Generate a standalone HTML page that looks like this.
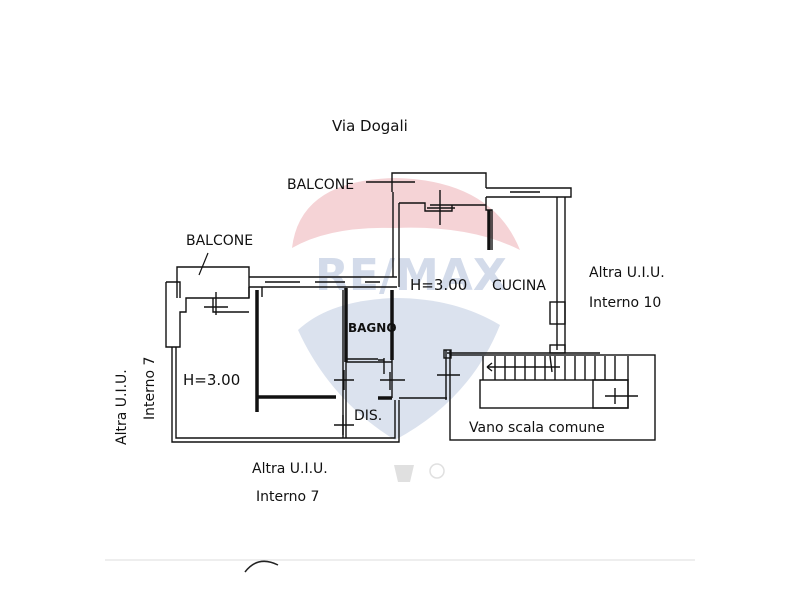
<!DOCTYPE html>
<html><head><meta charset="utf-8"><style>
html,body{margin:0;padding:0;background:#fff;}
svg{display:block}
text{font-family:"DejaVu Sans","Liberation Sans",sans-serif;fill:#111}
</style></head><body>
<svg width="800" height="600" viewBox="0 0 800 600" xmlns="http://www.w3.org/2000/svg">
<rect width="800" height="600" fill="#fff"/>
<!-- watermark -->
<path d="M292,248 Q300,180 395,178 Q492,180 520,250 Q470,225 395,228 Q330,226 292,248 Z" fill="#f5d3d6"/>
<path d="M298,330 Q330,300 395,298 Q455,298 500,325 Q470,400 395,440 Q330,400 298,330 Z" fill="#dbe2ee"/>
<text x="315" y="290" font-size="44" font-weight="bold" style="fill:#d3dbea">RE/MAX</text>
<path d="M394,465 L414,465 L410,482 L398,482 Z" fill="#e0e0e0"/>
<circle cx="437" cy="471" r="7" fill="none" stroke="#e0e0e0" stroke-width="1.5"/>
<g fill="none" stroke="#111" stroke-width="1.4">
<path d="M172,347 L172,442 L399,442 L399,400"/>
<path d="M176,347 L176,438 L395,438 L395,400"/>
<path d="M177,298 L177,267 L249,267 L249,298"/>
<path d="M166,282 L166,347 L180,347 L180,312 L186,312 L186,298 L249,298 L249,287"/>
<path d="M166,282 L180,282 L180,298"/>
<path d="M213,298 L213,312 L249,312 M204,307 L228,307 M216,292 L216,315"/>
<path d="M249,277 L397,277 M249,287 L397,287 M265,282 L300,282 M315,282 L345,282 M365,282 L380,282"/>
<path d="M262,287 L262,297"/>
<path d="M393,192 L393,277 M399,203 L399,287"/>
<path d="M392,192 L392,173 L486,173 L486,188"/>
<path d="M399,203 L425,203 L425,211 L452,211 L452,205 L486,205 M430,205 L452,205 M440,190 L440,225 M427,208 L455,208"/>
<path d="M366,182 L415,182"/>
<path d="M486,188 L571,188 L571,197 L486,197 M510,192 L540,192"/>
<path d="M486,197 L486,210 L492,210 L492,250" />
<path d="M557,197 L557,350 M565,197 L565,350"/>
<rect x="550" y="302" width="15" height="22"/>
<rect x="550" y="345" width="15" height="8"/>
<path d="M447,353 L600,353"/>
<rect x="450" y="355" width="205" height="85"/>
<rect x="480" y="380" width="148" height="28"/>
<rect x="593" y="380" width="35" height="28"/>
<path d="M605,396 L638,396 M615,388 L615,404"/>
<path d="M483,356 L483,380 M495,356 L495,380 M505,356 L505,380 M515,356 L515,380 M525,356 L525,380 M535,356 L535,380 M545,356 L545,380 M555,356 L555,380 M565,356 L565,380 M575,356 L575,380 M585,356 L585,380 M595,356 L595,380 M605,356 L605,380 M615,356 L615,380 M628,356 L628,380"/>
<path d="M487,367 L560,367 M487,367 L492,363 M487,367 L492,371 M550,356 L552,372"/>
<path d="M446,350 L446,400 M450,350 L450,355"/>
<rect x="444" y="350" width="7" height="8"/>
<path d="M437,375 L460,375"/>
<path d="M343,290 L343,438 M346,290 L346,438"/>
<path d="M392,290 L392,398"/>
<path d="M346,362 L392,362 M346,359 L378,359"/>
<path d="M399,398 L447,398 M378,398 L392,398"/>
<path d="M334,380 L354,380 M344,370 L344,390 M380,380 L405,380 M390,372 L390,390 M378,360 L384,360 M384,358 L384,374"/>
<path d="M334,425 L354,425 M343,415 L343,435"/>
</g>
<g stroke="#111" stroke-width="3.5" fill="none">
<path d="M257,290 L257,412 M257,397 L336,397 M346,288 L346,362 M392,290 L392,360 M378,398 L392,398 M489,210 L489,250"/>
</g>
<text x="332" y="131" font-size="15">Via Dogali</text>
<text x="287" y="189" font-size="14">BALCONE</text>
<text x="186" y="245" font-size="14">BALCONE</text>
<path d="M208,253 L199,275" stroke="#111" stroke-width="1.2"/>
<text x="410" y="290" font-size="15">H=3.00</text>
<text x="492" y="290" font-size="14">CUCINA</text>
<text x="348" y="332" font-size="12" font-weight="bold">BAGNO</text>
<text x="183" y="385" font-size="15">H=3.00</text>
<text x="354" y="420" font-size="14">DIS.</text>
<text x="589" y="277" font-size="14">Altra U.I.U.</text>
<text x="589" y="307" font-size="14">Interno 10</text>
<text x="469" y="432" font-size="14">Vano scala comune</text>
<text x="252" y="473" font-size="14">Altra U.I.U.</text>
<text x="256" y="501" font-size="14">Interno 7</text>
<text transform="translate(126,445) rotate(-90)" font-size="14">Altra U.I.U.</text>
<text transform="translate(154,420) rotate(-90)" font-size="14">Interno 7</text>
<path d="M245,572 Q258,555 278,565" stroke="#222" stroke-width="1.5" fill="none"/>
<path d="M105,560 L695,560" stroke="#ddd" stroke-width="1"/>
</svg>
</body></html>
